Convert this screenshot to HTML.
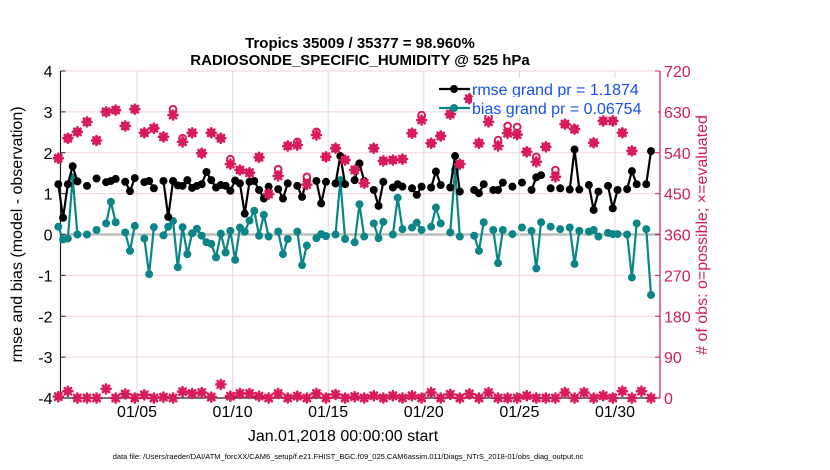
<!DOCTYPE html>
<html><head><meta charset="utf-8">
<style>
html,body{margin:0;padding:0;background:#fff;}
svg{display:block;font-family:"Liberation Sans",Arial,sans-serif;}
</style></head>
<body>
<svg id="chart" width="830" height="470" viewBox="0 0 830 470" xmlns="http://www.w3.org/2000/svg">
<g id="grid"></g>
<g id="axes"></g>
<g id="series"></g>
<g id="legend"></g>
<text x="360" y="48" text-anchor="middle" font-size="15" font-weight="bold">Tropics 35009 / 35377 = 98.960%</text>
<text x="360" y="65" text-anchor="middle" font-size="15" font-weight="bold">RADIOSONDE_SPECIFIC_HUMIDITY @ 525 hPa</text>
<text transform="translate(22,234.5) rotate(-90)" text-anchor="middle" font-size="16">rmse and bias (model - observation)</text>
<text transform="translate(707,235) rotate(-90)" text-anchor="middle" font-size="16" fill="#d01c5b"># of obs: o=possible; ×=evaluated</text>
<text x="343" y="441" text-anchor="middle" font-size="16">Jan.01,2018 00:00:00 start</text>
<text x="348" y="459" text-anchor="middle" font-size="7.5">data file: /Users/raeder/DAI/ATM_forcXX/CAM6_setup/f.e21.FHIST_BGC.f09_025.CAM6assim.011/Diags_NTrS_2018-01/obs_diag_output.nc</text>
</svg>
<script>
const N=null;
const rmse=[1.23,0.41,1.23,1.67,1.3,N,1.19,N,1.37,N,1.28,1.31,1.36,N,1.29,1.06,1.38,N,1.28,1.31,1.13,N,1.31,0.43,1.31,1.2,1.19,1.33,1.14,1.19,1.23,1.53,1.33,1.15,1.21,1.19,1.07,1.32,1.25,0.51,1.29,1.31,1.09,0.88,1.17,N,1.11,0.88,1.25,N,1.19,0.92,1.36,N,1.31,0.76,1.29,N,1.25,1.92,1.23,N,1.33,1.74,1.31,N,1.09,0.70,1.29,N,1.15,1.23,1.17,N,1.13,0.97,1.17,N,1.15,1.54,1.21,N,1.15,1.92,1.05,N,N,1.09,1.01,1.23,N,1.09,1.09,1.27,N,1.17,N,1.27,N,1.09,1.40,1.45,N,1.13,N,1.13,N,1.10,2.08,1.10,N,1.21,0.60,1.05,N,1.19,0.64,1.09,N,1.11,1.55,1.23,N,1.23,2.04];
const bias=[0.19,-0.12,-0.10,1.40,0.00,N,0.00,N,0.11,N,0.27,0.80,0.30,N,0.05,-0.40,0.21,N,-0.10,-0.97,0.18,N,-0.02,0.19,0.33,-0.80,0.18,-0.48,0.03,0.14,-0.03,-0.19,-0.23,-0.56,0.02,-0.44,0.09,-0.62,0.17,0.07,0.34,0.58,-0.03,0.48,-0.05,N,0.07,-0.48,-0.11,N,0.07,-0.75,-0.27,N,-0.09,0.01,-0.04,N,0.00,1.33,-0.11,N,-0.19,0.74,-0.05,N,0.27,-0.09,0.31,N,0.00,0.90,0.13,N,0.17,0.29,0.11,N,0.19,0.66,0.27,N,0.05,1.58,-0.05,N,N,-0.03,-0.40,0.30,N,0.11,-0.70,0.11,N,0.01,N,0.17,N,0.09,-0.83,0.30,N,0.19,N,0.13,N,0.17,-0.72,0.09,N,0.07,0.11,-0.05,N,0.04,0.01,0.01,N,0.00,-1.05,0.27,N,0.13,-1.48];
const evaluated=[528,572,586,608,567,630,634,599,636,584,594,575,623,564,584,539,584,572,515,502,496,530,449,489,555,557,470,579,531,550,524,502,473,550,522,524,526,583,612,561,577,625,515,659,561,608,555,583,580,542,520,553,487,603,592,641,562,610,610,584,544,641,638];
const possible=[528,572,586,608,567,630,634,599,636,584,594,575,636,572,584,539,584,572,526,502,496,530,449,504,555,564,487,586,531,550,524,502,473,550,522,524,526,583,623,561,577,625,515,659,561,619,568,599,597,542,531,553,502,603,592,641,562,610,610,584,544,641,638];
const bottomCounts=[3,15,0,0,0,20,0,9,0,7,0,2,0,14,10,12,2,30,4,10,10,4,0,10,0,4,0,10,0,8,0,3,0,5,0,5,0,5,0,12,0,8,0,9,0,12,0,0,0,5,0,0,0,12,0,12,0,5,0,15,0,15,0];
const yTicks=[-4,-3,-2,-1,0,1,2,3,4];
const y2Ticks=[0,90,180,270,360,450,540,630,720];
const xTickDays=[5,10,15,20,25,30];
const xTickLabels=["01/05","01/10","01/15","01/20","01/25","01/30"];

const L=60.5,R=660,T=71,B=398;
const ns="http://www.w3.org/2000/svg";
function yS(v){return B-(v+4)/8*(B-T);}
function y2S(v){return B-v/720*(B-T);}
function xS(i){return 58.3+i*4.78;}
function xDay(d){return xS((d-1)*4+0.46);}
function mk(parent,tag,attrs){const e=document.createElementNS(ns,tag);for(const k in attrs)e.setAttribute(k,attrs[k]);parent.appendChild(e);return e;}
const grid=document.getElementById('grid'),axes=document.getElementById('axes'),ser=document.getElementById('series'),leg=document.getElementById('legend');

yTicks.forEach(function(t){
  const g=mk(grid,'line',{x1:L,x2:R,y1:yS(t),y2:yS(t),stroke:t===0?'#bdbdbd':'#f2d3de','stroke-width':t===0?2.5:1});
  
  
});
xTickDays.forEach(function(d){
  const g=mk(grid,'line',{x1:xDay(d),x2:xDay(d),y1:T,y2:B,stroke:'#dddddd','stroke-width':1});
  
  
});
let a=mk(axes,'line',{x1:L,x2:L,y1:T,y2:B,stroke:'#222','stroke-width':1.2});


a=mk(axes,'line',{x1:L,x2:R,y1:B,y2:B,stroke:'#222','stroke-width':1.2});


a=mk(axes,'line',{x1:R,x2:R,y1:T,y2:B,stroke:'#d01c5b','stroke-width':1.2});


yTicks.forEach(function(t){
  const tk=mk(axes,'line',{x1:L,x2:L+5,y1:yS(t),y2:yS(t),stroke:'#222'});
  
  
  const tx=mk(axes,'text',{x:L-8,y:yS(t)+6,'text-anchor':'end','font-size':16});
  tx.textContent=String(t);
  
  
});
y2Ticks.forEach(function(t){
  const tk=mk(axes,'line',{x1:R-5,x2:R,y1:y2S(t),y2:y2S(t),stroke:'#d01c5b'});
  
  
  const tx=mk(axes,'text',{x:R+4,y:y2S(t)+6,'text-anchor':'start','font-size':16,fill:'#d01c5b'});
  tx.textContent=String(t);
  
  
});
xTickDays.forEach(function(d,k){
  const tk=mk(axes,'line',{x1:xDay(d),x2:xDay(d),y1:B-5,y2:B,stroke:'#222'});
  
  
  const tx=mk(axes,'text',{x:xDay(d),y:B+19,'text-anchor':'middle','font-size':16});
  tx.textContent=xTickLabels[k];
  
  
});

function drawLine(arr,color,name){
  const g=mk(ser,'g',{});
  
  
  let seg=[];
  function flush(){ if(seg.length>1){const p=mk(g,'polyline',{points:seg.join(' '),fill:'none',stroke:color,'stroke-width':2.2});} seg=[]; }
  arr.forEach(function(v,i){ if(v===null){flush();return;} seg.push(xS(i)+','+yS(v)); });
  flush();
  arr.forEach(function(v,i){ if(v===null)return;
    const c=mk(g,'circle',{cx:xS(i),cy:yS(v),r:4,fill:color});
    
    
  });
}
drawLine(bias,'#0b8585','bias');
drawLine(rmse,'#000000','rmse');

const MAG='#d81b5b';
function star(x,y,name){
  const g=mk(ser,'g',{stroke:MAG,'stroke-width':2.6,'stroke-linecap':'round'});
  
  
  mk(g,'line',{x1:x-4.5,x2:x+4.5,y1:y,y2:y});
  mk(g,'line',{x1:x,x2:x,y1:y-4.5,y2:y+4.5});
  mk(g,'line',{x1:x-3.2,x2:x+3.2,y1:y-3.2,y2:y+3.2});
  mk(g,'line',{x1:x-3.2,x2:x+3.2,y1:y+3.2,y2:y-3.2});
  mk(g,'circle',{cx:x,cy:y,r:2.6,fill:MAG,stroke:'none'});
}
possible.forEach(function(v,j){ if(v===null)return;
  const c=mk(ser,'circle',{cx:xS(j*2),cy:y2S(v),r:3.3,fill:'#fff',stroke:MAG,'stroke-width':2});
  
  
});
evaluated.forEach(function(v,j){ if(v===null)return; star(xS(j*2),y2S(v),'evaluated-obs-marker'); });
bottomCounts.forEach(function(v,j){ star(xS(j*2),y2S(v),'bottom-count-marker'); });

function legItem(y,color,label,name){
  const g=mk(leg,'g',{});
  
  
  mk(g,'rect',{x:472,y:y-11,width:186,height:18,fill:'#fff'});
  mk(g,'line',{x1:439,x2:470,y1:y,y2:y,stroke:color,'stroke-width':2.2});
  mk(g,'circle',{cx:454,cy:y,r:4,fill:color});
  const t=mk(g,'text',{x:472,y:y+6,'font-size':16,fill:'#1450f0'});
  t.textContent=label;
}
legItem(89,'#000','rmse grand pr = 1.1874','legend-entry-rmse');
legItem(108,'#0b8585','bias grand pr = 0.06754','legend-entry-bias');
</script>
</body></html>
